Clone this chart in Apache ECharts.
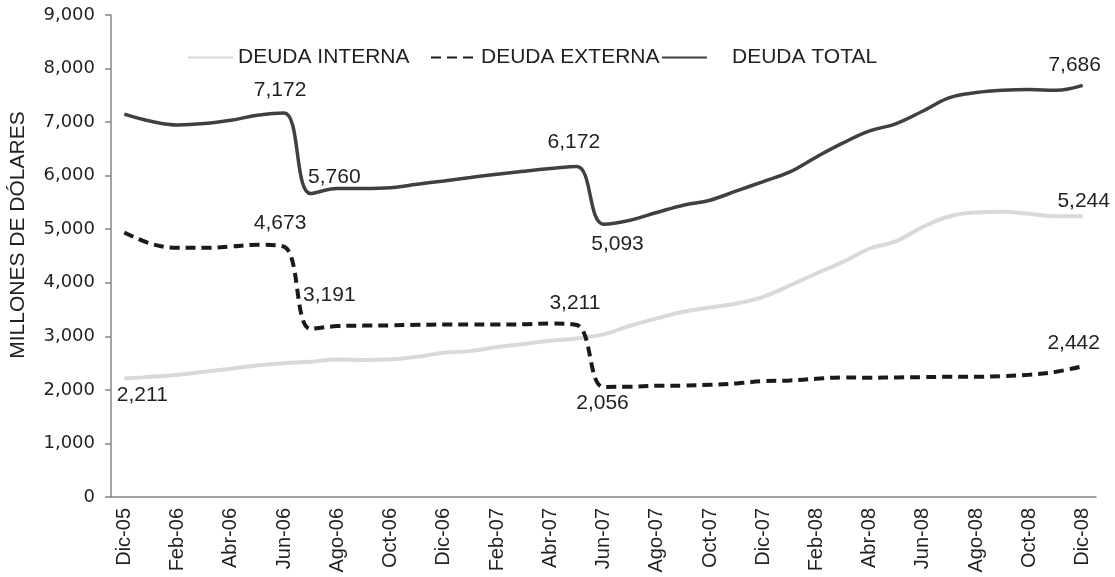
<!DOCTYPE html>
<html>
<head>
<meta charset="utf-8">
<script src="https://cdn.jsdelivr.net/npm/echarts@6.0.0/dist/echarts.min.js"></script>
<style>
  html, body { margin: 0; padding: 0; background: #fff; }
  #chart { width: 1115px; height: 577px; }
</style>
</head>
<body>
<div id="chart"></div>
<script>
// monthly, Dic-05 .. Dic-08
const months = [
  'Dic-05', 'Ene-06', 'Feb-06', 'Mar-06', 'Abr-06', 'May-06', 'Jun-06', 'Jul-06', 'Ago-06', 'Sep-06', 'Oct-06', 'Nov-06',
  'Dic-06', 'Ene-07', 'Feb-07', 'Mar-07', 'Abr-07', 'May-07', 'Jun-07', 'Jul-07', 'Ago-07', 'Sep-07', 'Oct-07', 'Nov-07',
  'Dic-07', 'Ene-08', 'Feb-08', 'Mar-08', 'Abr-08', 'May-08', 'Jun-08', 'Jul-08', 'Ago-08', 'Sep-08', 'Oct-08', 'Nov-08',
  'Dic-08'
];

const deudaInterna = [
  2211, 2245, 2282, 2338, 2394, 2457, 2499, 2525, 2569, 2560, 2570, 2618,
  2693, 2724, 2799, 2855, 2917, 2961, 3037, 3197, 3335, 3458, 3540, 3614,
  3738, 3950, 4174, 4391, 4640, 4777, 5044, 5243, 5312, 5324, 5287, 5243,
  5244
];

const deudaExterna = [
  4940, 4730, 4652, 4652, 4678, 4710, 4673, 3140, 3191, 3200, 3205, 3215,
  3220, 3222, 3222, 3225, 3240, 3211, 2056, 2058, 2077, 2080, 2096, 2121,
  2165, 2177, 2208, 2233, 2227, 2233, 2239, 2245, 2245, 2258, 2282, 2338,
  2442
];

const deudaTotal = [
  7150, 7016, 6947, 6972, 7035, 7128, 7172, 5665, 5760, 5760, 5775, 5840,
  5902, 5965, 6027, 6083, 6133, 6172, 5093, 5168, 5312, 5449, 5542, 5716,
  5890, 6070, 6350, 6612, 6835, 6973, 7208, 7458, 7551, 7595, 7608, 7595,
  7686
];

// which points carry a value label
const internaLabeled = [0, 36];
const externaLabeled = [6, 8, 17, 18, 36];
const totalLabeled = [6, 8, 17, 18, 36];

const fmt = v => Number(v).toLocaleString('en-US');

// label placement per labeled point (index -> position, distance, offset)
const labelPos = {
  interna: { 0: ['bottom', 6, [18, 0]], 36: ['top', 4, [1, 0]] },
  externa: { 6: ['top', 13, [-4, 0]], 8: ['top', 20, [-8, 0]], 17: ['top', 11, [-2, 0]], 18: ['bottom', 5, [-1, 0]], 36: ['top', 12, [-9, 0]] },
  total: { 6: ['top', 12, [-4, 0]], 8: ['top', 0, [-3, 0]], 17: ['top', 13, [-3, 0]], 18: ['bottom', 9, [14, 0]], 36: ['top', 9, [-8, 0]] }
};

function withLabels(values, labeled, key) {
  return values.map((v, i) => {
    if (!labeled.includes(i)) return v;
    const p = labelPos[key][i];
    return {
      value: v,
      label: {
        show: true,
        position: p[0],
        distance: p[1],
        offset: p[2],
        formatter: params => fmt(params.value)
      }
    };
  });
}

const textColor = '#231f20';
const axisGray = '#868686';

const chart = echarts.init(document.getElementById('chart'));

const labelStyle = {
  show: false,
  opacity: 1,
  color: textColor,
  fontFamily: '"Liberation Sans", Arial, sans-serif',
  fontSize: 21
};

const legendBase = {
  top: 47,
  padding: 0,
  itemWidth: 45,
  itemHeight: 14,
  selectedMode: false,
  itemStyle: { opacity: 0 },
  textStyle: { color: textColor, fontFamily: '"Liberation Sans", Arial, sans-serif', fontSize: 21 }
};

// points are 1px and transparent; they only anchor the value labels
const lineSeries = (name, values, labeled, key, lineStyle) => ({
  name: name,
  type: 'line',
  smooth: 0.4,
  symbol: 'circle',
  symbolSize: 1,
  showSymbol: true,
  showAllSymbol: true,
  data: withLabels(values, labeled, key),
  lineStyle: lineStyle,
  itemStyle: { color: 'rgba(0,0,0,0)', borderWidth: 0 },
  label: labelStyle,
  emphasis: { disabled: true }
});

const option = {
  animation: false,
  backgroundColor: '#fff',
  grid: { left: 110, right: 19, top: 15, bottom: 80 },
  legend: [
    Object.assign({}, legendBase, { left: 187, data: ['DEUDA INTERNA'] }),
    Object.assign({}, legendBase, { left: 430, data: ['DEUDA EXTERNA'] }),
    Object.assign({}, legendBase, {
      left: 661,
      data: ['DEUDA TOTAL'],
      textStyle: Object.assign({}, legendBase.textStyle, { padding: [0, 0, 0, 20] })
    })
  ],
  xAxis: {
    type: 'category',
    data: months,
    boundaryGap: true,
    axisLine: { lineStyle: { color: axisGray, width: 1.5 } },
    axisTick: { interval: 0, length: 6, lineStyle: { color: axisGray, width: 1.5 } },
    axisLabel: {
      interval: 1,
      rotate: 90,
      margin: 11,
      padding: [0, 0, 12, 0],
      color: textColor,
      fontFamily: '"Liberation Sans", Arial, sans-serif',
      fontSize: 20
    },
    splitLine: { show: false }
  },
  yAxis: {
    type: 'value',
    min: 0,
    max: 9000,
    interval: 1000,
    name: 'MILLONES DE DÓLARES',
    nameLocation: 'middle',
    nameGap: 82,
    nameTextStyle: {
      color: textColor,
      fontFamily: '"Liberation Sans", Arial, sans-serif',
      fontSize: 21,
      padding: [0, 0, 0, 42]
    },
    axisLine: { show: true, lineStyle: { color: axisGray, width: 1.5 } },
    axisTick: { show: true, length: 6, lineStyle: { color: axisGray, width: 1.5 } },
    axisLabel: {
      margin: 16,
      color: textColor,
      fontFamily: '"DejaVu Sans", sans-serif',
      fontSize: 18,
      formatter: v => fmt(v)
    },
    splitLine: { show: false }
  },
  series: [
    lineSeries('DEUDA INTERNA', deudaInterna, internaLabeled, 'interna', { color: '#d9d9d9', width: 4 }),
    lineSeries('DEUDA EXTERNA', deudaExterna, externaLabeled, 'externa', { color: '#1a1a1a', width: 4, type: [10, 6] }),
    lineSeries('DEUDA TOTAL', deudaTotal, totalLabeled, 'total', { color: '#404040', width: 3.5 })
  ]
};

chart.setOption(option);
</script>
</body>
</html>
